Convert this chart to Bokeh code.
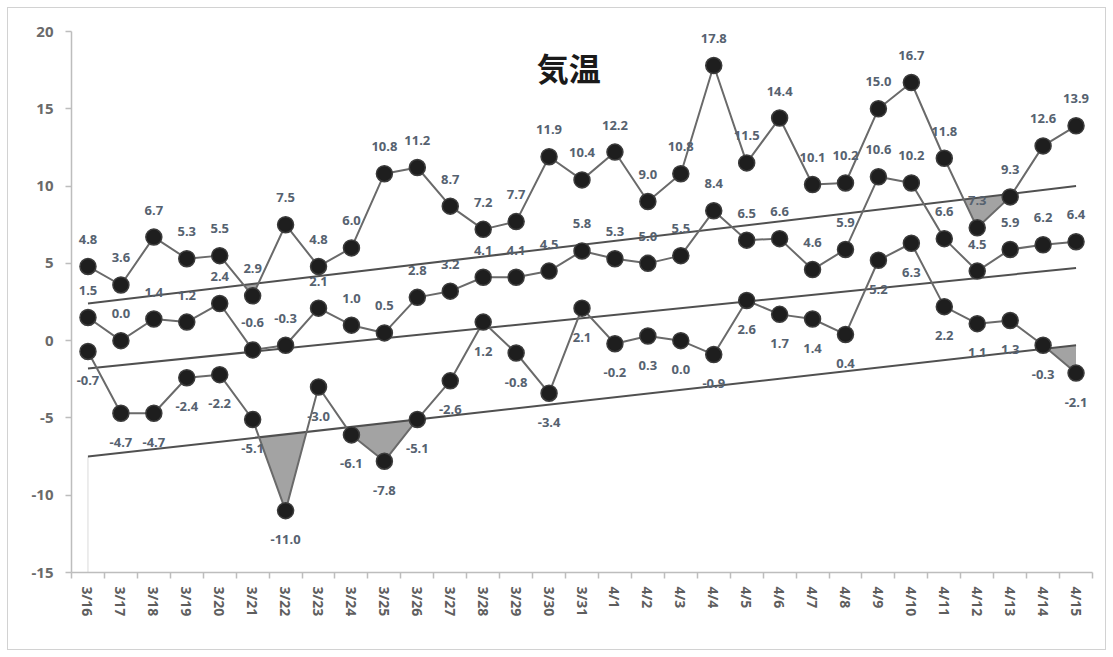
import math
from bokeh.plotting import figure
from bokeh.models import Range1d, FixedTicker, ColumnDataSource, Label
from bokeh.core.properties import value
from bokeh.embed import file_html
from bokeh.resources import INLINE

# Daily temperatures, 3/16 - 4/15
dates = ["3/16", "3/17", "3/18", "3/19", "3/20", "3/21", "3/22", "3/23", "3/24", "3/25",
         "3/26", "3/27", "3/28", "3/29", "3/30", "3/31", "4/1", "4/2", "4/3", "4/4",
         "4/5", "4/6", "4/7", "4/8", "4/9", "4/10", "4/11", "4/12", "4/13", "4/14", "4/15"]
t_max = [4.8, 3.6, 6.7, 5.3, 5.5, 2.9, 7.5, 4.8, 6.0, 10.8, 11.2, 8.7, 7.2, 7.7, 11.9, 10.4,
         12.2, 9.0, 10.8, 17.8, 11.5, 14.4, 10.1, 10.2, 15.0, 16.7, 11.8, 7.3, 9.3, 12.6, 13.9]
t_mean = [1.5, 0.0, 1.4, 1.2, 2.4, -0.6, -0.3, 2.1, 1.0, 0.5, 2.8, 3.2, 4.1, 4.1, 4.5, 5.8,
          5.3, 5.0, 5.5, 8.4, 6.5, 6.6, 4.6, 5.9, 10.6, 10.2, 6.6, 4.5, 5.9, 6.2, 6.4]
t_min = [-0.7, -4.7, -4.7, -2.4, -2.2, -5.1, -11.0, -3.0, -6.1, -7.8, -5.1, -2.6, 1.2, -0.8,
         -3.4, 2.1, -0.2, 0.3, 0.0, -0.9, 2.6, 1.7, 1.4, 0.4, 5.2, 6.3, 2.2, 1.1, 1.3, -0.3, -2.1]

# Normal values at the first and last day of the period
normal_max = [2.4, 10.0]
normal_mean = [-1.8, 4.7]
normal_min = [-7.5, -0.3]

y_ticks = [-15, -10, -5, 0, 5, 10, 15, 20]

n = len(dates)
xs = list(range(n))

GRAY_LINE = "#6a6a6a"
NORMAL_LINE = "#505050"
LABEL_COLOR = "#566270"
AXIS_COLOR = "#bdbdbd"

p = figure(width=1113, height=657, output_backend="svg", toolbar_location=None,
           x_range=Range1d(-0.5, n - 0.5), y_range=Range1d(-15, 20),
           min_border_left=71, min_border_right=21, min_border_top=31, min_border_bottom=85)
p.outline_line_color = None
p.grid.visible = False
p.background_fill_color = "white"
# transparent border area so the page-level frame line shows through
p.border_fill_color = None
p.styles = {"background-color": "white",
            "outline": "1.5px solid #d2d2d2", "outline-offset": "-8px"}


def below_normal(vals, n0, n1):
    """Band between a series and its normal line wherever the series is lower."""
    def norm(x):
        return n0 + (n1 - n0) * x / (n - 1)
    bx, lo, hi = [], [], []
    for i, v in enumerate(vals):
        d = v - norm(i)
        if i > 0:
            dp = vals[i - 1] - norm(i - 1)
            if dp * d < 0:
                xc = i - 1 + dp / (dp - d)
                bx.append(xc)
                lo.append(norm(xc))
                hi.append(norm(xc))
        bx.append(i)
        lo.append(min(v, norm(i)))
        hi.append(norm(i))
    return bx, lo, hi


# faint drop line under the start of the minimum normal
p.line(x=[0, 0], y=[normal_min[0], -15], line_color="#dadada", line_width=1)

for vals, nrm in ((t_max, normal_max), (t_mean, normal_mean), (t_min, normal_min)):
    bx, lo, hi = below_normal(vals, nrm[0], nrm[1])
    p.varea(x=bx, y1=lo, y2=hi, fill_color="#a3a3a3", fill_alpha=1.0)

for nrm in (normal_max, normal_mean, normal_min):
    p.line(x=[0, n - 1], y=nrm, line_color=NORMAL_LINE, line_width=2)

for vals in (t_max, t_mean, t_min):
    p.line(x=xs, y=vals, line_color=GRAY_LINE, line_width=2)
    p.scatter(x=xs, y=vals, size=16, fill_color="#1e1e1e", line_color="#3c3c3c", line_width=1.5)

# Value labels: max and mean above the points, min below
for vals, off in ((t_max, -27), (t_mean, -27), (t_min, 29)):
    src = ColumnDataSource(dict(x=xs, y=vals, t=[f"{v:.1f}" for v in vals]))
    p.text(x="x", y="y", text="t", source=src, y_offset=off, text_align="center",
           text_baseline="middle", text_font=value("Noto Sans"), text_font_style="bold",
           text_font_size="13px", text_color=LABEL_COLOR)

p.add_layout(Label(x=14.6, y=17.7, text="気温", text_align="center", text_baseline="middle",
                   text_font="Noto Sans CJK JP", text_font_style="bold",
                   text_font_size="32px", text_color="#1a1a1a"))

# X axis: labels centred on each day, tick marks between days
xa = p.xaxis[0]
xa.ticker = FixedTicker(ticks=xs, minor_ticks=[i - 0.5 for i in range(n + 1)])
xa.major_label_overrides = {i: d for i, d in enumerate(dates)}
xa.major_label_orientation = -math.pi / 2
xa.major_tick_line_color = None
xa.minor_tick_in = 0
xa.minor_tick_out = 6
xa.minor_tick_line_color = AXIS_COLOR
xa.minor_tick_line_width = 1.5
xa.axis_line_color = AXIS_COLOR
xa.axis_line_width = 1.5
xa.major_label_standoff = 8
xa.major_label_text_font = "Noto Sans"
xa.major_label_text_font_style = "bold"
xa.major_label_text_font_size = "14px"
xa.major_label_text_color = "#5e5e5e"

ya = p.yaxis[0]
ya.ticker = FixedTicker(ticks=y_ticks, minor_ticks=[])
ya.major_label_overrides = {t: str(t) for t in y_ticks}
ya.major_tick_in = 0
ya.major_tick_out = 6
ya.major_tick_line_color = AXIS_COLOR
ya.major_tick_line_width = 1.5
ya.axis_line_color = AXIS_COLOR
ya.axis_line_width = 1.5
ya.major_label_standoff = 12
ya.major_label_text_font = "Noto Sans"
ya.major_label_text_font_style = "bold"
ya.major_label_text_font_size = "15px"
ya.major_label_text_color = "#6a6a6a"

open("out.html", "w").write(file_html(p, INLINE))
